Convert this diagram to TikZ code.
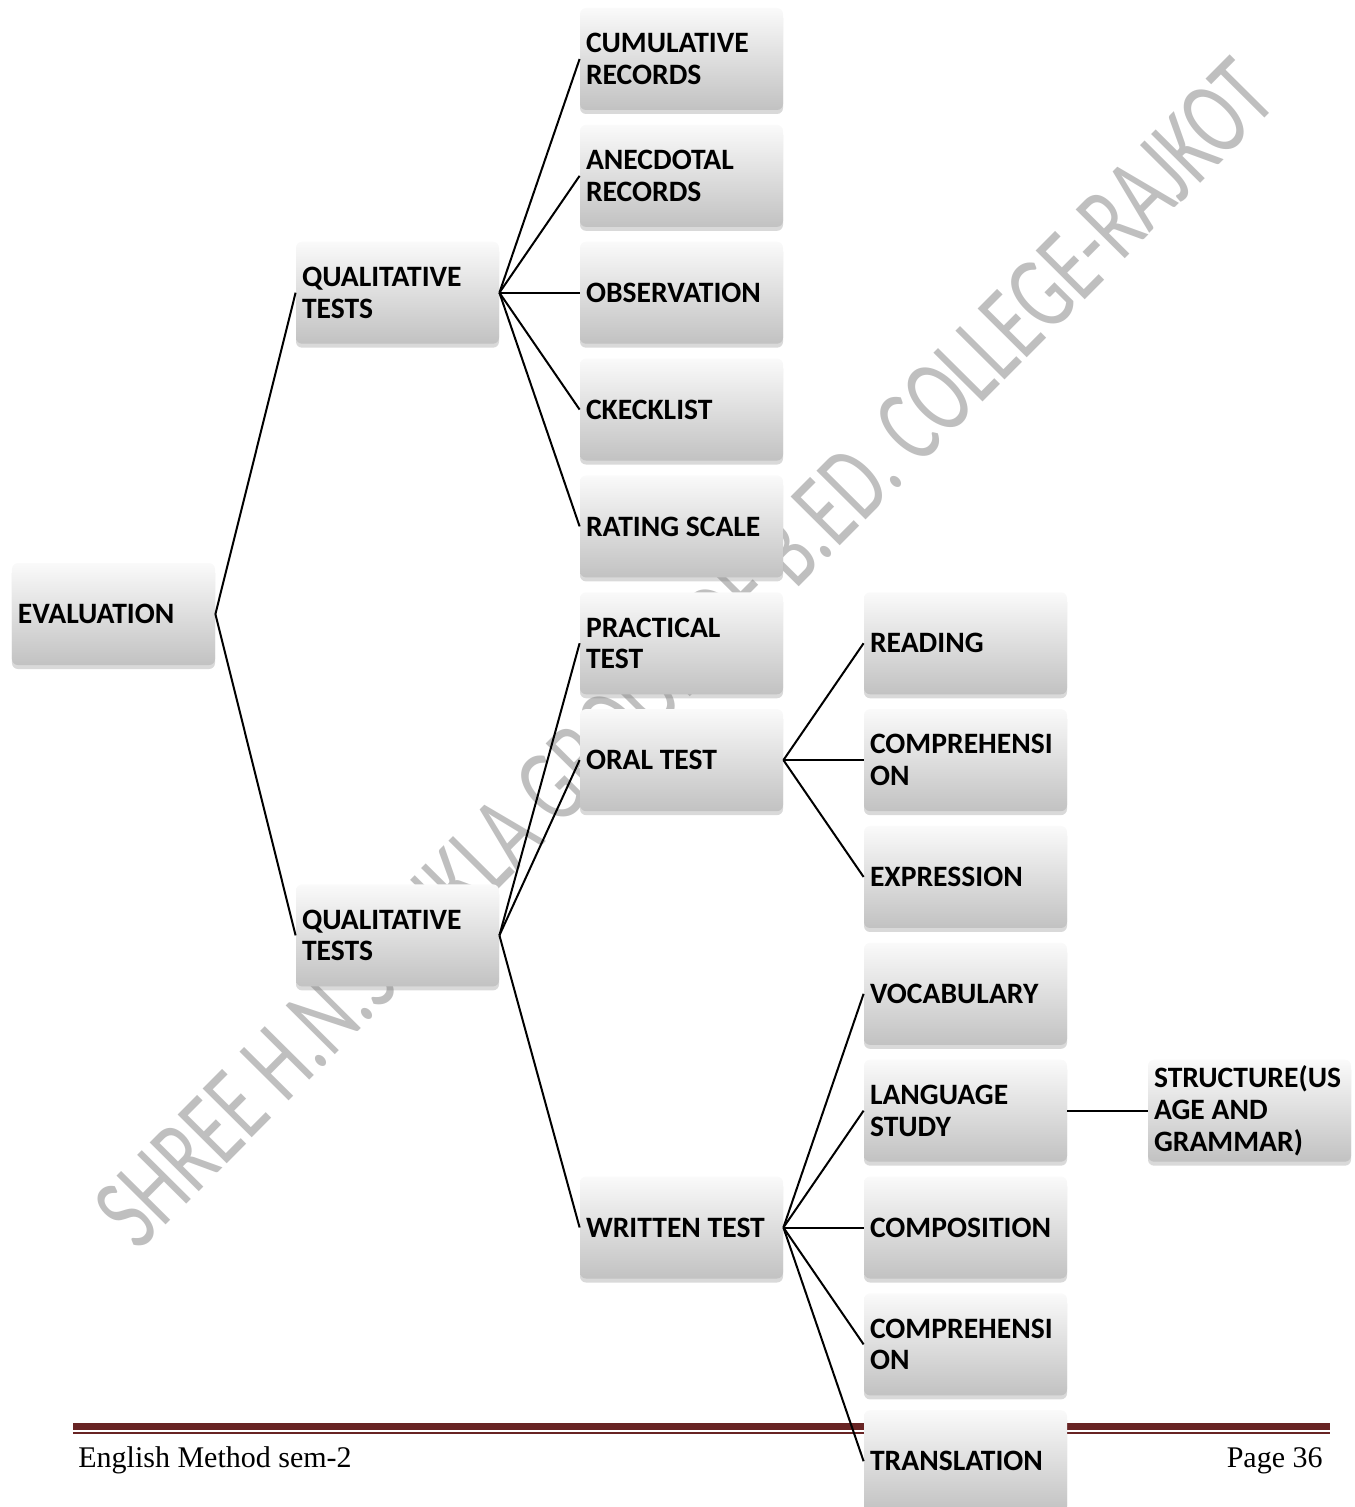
\documentclass[tikz,border=0pt]{standalone}
\usepackage{fontspec}
\setmainfont{Carlito}
\newfontfamily\footfont{Liberation Serif}
\usetikzlibrary{shadows}
\definecolor{footred}{HTML}{682424}

\begin{document}
\begin{tikzpicture}[x=1pt, y=1pt,
  box/.style={rounded corners=3pt, top color=black!2, bottom color=black!24,
    minimum width=101.5pt, minimum height=51pt, text width=95.5pt,
    inner sep=3pt, align=flush left,
    font=\fontsize{14.8}{15.8}\selectfont\bfseries,
    drop shadow={opacity=0.3, shadow xshift=0pt, shadow yshift=-2pt}},
  link/.style={line width=1pt}]

\newcommand\X{142pt};
\newcommand\Y{58.425pt};

\useasboundingbox (-56.75pt, 29.5pt) rectangle (620.25pt, -724pt); %% page

%% watermark
\node[rotate=45.2, text=black!25, inner sep=0] (mark) at (285.75pt, -297pt)
{\resizebox{810pt}{35pt}{SHREE H.N.SHUKLA GROUP OF B.ED. COLLEGE-RAJKOT}};

%% footer
\draw[footred, line width=3.8pt] (-20.25pt, -683.8pt) -- (608.25pt, -683.8pt);
\draw[footred, line width=1.2pt] (-20.25pt, -687pt) -- (608.25pt, -687pt);
\node[anchor=base west, inner sep=0, font=\footfont\fontsize{15}{18}\selectfont]
(foot) at (-17.75pt, -704pt) {English Method sem-2};
\node[anchor=base east, inner sep=0, font=\footfont\fontsize{15}{18}\selectfont]
(page) at (604.75pt, -704pt) {Page 36};

\node[box] (eval) at (0, -4.75*\Y) {EVALUATION};

\node[box] (qualA) at (1*\X, -2*\Y) {QUALITATIVE\\TESTS};
\node[box] (qualB) at (1*\X, -7.5*\Y) {QUALITATIVE\\TESTS};

\node[box] (cumul)   at (2*\X, 0)       {CUMULATIVE\\RECORDS};
\node[box] (anecd)   at (2*\X, -1*\Y)   {ANECDOTAL\\RECORDS};
\node[box] (observ)  at (2*\X, -2*\Y)   {OBSERVATION};
\node[box] (check)   at (2*\X, -3*\Y)   {CKECKLIST};
\node[box] (rating)  at (2*\X, -4*\Y)   {RATING SCALE};
\node[box] (pract)   at (2*\X, -5*\Y)   {PRACTICAL\\TEST};
\node[box] (oral)    at (2*\X, -6*\Y)   {ORAL TEST};
\node[box] (written) at (2*\X, -10*\Y)  {WRITTEN TEST};

\node[box] (reading) at (3*\X, -5*\Y)   {READING};
\node[box] (comprA)  at (3*\X, -6*\Y)   {COMPREHENSI\\ON};
\node[box] (express) at (3*\X, -7*\Y)   {EXPRESSION};
\node[box] (vocab)   at (3*\X, -8*\Y)   {VOCABULARY};
\node[box] (lang)    at (3*\X, -9*\Y)   {LANGUAGE\\STUDY};
\node[box] (compos)  at (3*\X, -10*\Y)  {COMPOSITION};
\node[box] (comprB)  at (3*\X, -11*\Y)  {COMPREHENSI\\ON};
\node[box] (transl)  at (3*\X, -12*\Y)  {TRANSLATION};

\node[box] (struct)  at (4*\X, -9*\Y)   {STRUCTURE(US\\AGE AND\\GRAMMAR)};

%% connectors
\draw[link] (eval.east) -- (qualA.west);
\draw[link] (eval.east) -- (qualB.west);
\foreach \n in {cumul, anecd, observ, check, rating}
  \draw[link] (qualA.east) -- (\n.west);
\foreach \n in {pract, oral, written}
  \draw[link] (qualB.east) -- (\n.west);
\foreach \n in {reading, comprA, express}
  \draw[link] (oral.east) -- (\n.west);
\foreach \n in {vocab, lang, compos, comprB, transl}
  \draw[link] (written.east) -- (\n.west);
\draw[link] (lang.east) -- (struct.west);

\end{tikzpicture}
\end{document}
